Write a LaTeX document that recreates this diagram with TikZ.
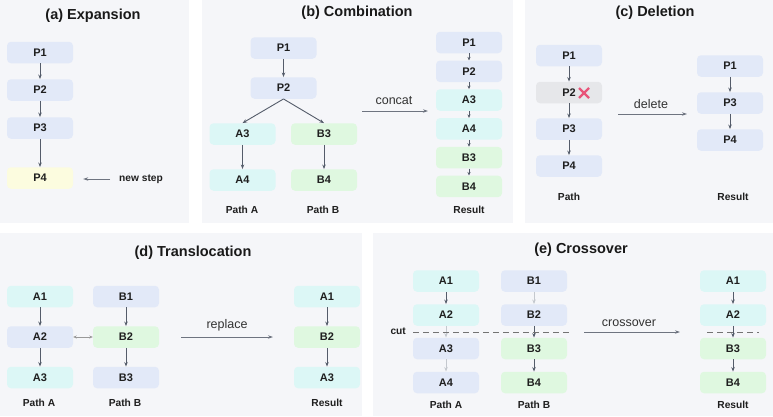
\documentclass[tikz,border=0pt]{standalone}
\usepackage{fontspec}
\setmainfont{Liberation Sans}
\usetikzlibrary{arrows.meta}
\definecolor{panelbg}{HTML}{F5F6F9}
\definecolor{pcol}{HTML}{E2E9F8}
\definecolor{acol}{HTML}{DCF7F6}
\definecolor{bcol}{HTML}{DFF8E0}
\definecolor{ycol}{HTML}{FCFCDF}
\definecolor{gcol}{HTML}{E6E7EA}
\definecolor{arr}{HTML}{545C6A}
\definecolor{larr}{HTML}{C4C8CE}
\definecolor{crossc}{HTML}{E8557A}
\tikzset{
  panel/.style={fill=panelbg, draw=none},
  box/.style={rounded corners=4pt, minimum width=66pt, minimum height=21.5pt, inner sep=0pt, font=\bfseries\fontsize{11}{12}\selectfont, text=black!88},
  pbox/.style={box, fill=pcol},
  abox/.style={box, fill=acol},
  bbox/.style={box, fill=bcol},
  ybox/.style={box, fill=ycol},
  gbox/.style={box, fill=gcol},
  ttl/.style={font=\bfseries\fontsize{14.5}{16}\selectfont, text=black!90, inner sep=0pt},
  lbl/.style={font=\bfseries\fontsize{10.2}{11}\selectfont, text=black!88, inner sep=0pt},
  oplbl/.style={font=\fontsize{12.5}{13}\selectfont, text=black!80, inner sep=0pt, anchor=south},
  flow/.style={draw=arr, line width=0.9pt, -{Stealth[length=4.5pt,width=3.4pt]}},
  lflow/.style={draw=larr, line width=0.9pt, -{Stealth[length=4.5pt,width=3.4pt]}},
  bigflow/.style={draw=arr!85, line width=0.9pt, -{Stealth[length=5pt,width=3.4pt]}},
  cutline/.style={draw=black!55, line width=1pt, dash pattern=on 6pt off 4pt},
}
\begin{document}
\begin{tikzpicture}[x=1pt,y=-1pt]
\useasboundingbox (0,0) rectangle (773,416);
\fill[white] (0,0) rectangle (773,416);
% panels
\fill[panel] (0,0) rectangle (189,223);
\fill[panel] (202,0) rectangle (513,223);
\fill[panel] (525,0) rectangle (773,223);
\fill[panel] (0,233) rectangle (362,416);
\fill[panel] (373,233) rectangle (773,416);

% (a) Expansion
\node[ttl] (ta) at (93,16) {(a) Expansion};
\node[pbox] (ap1) at (40,52.5) {P1};
\node[pbox] (ap2) at (40,90) {P2};
\node[pbox] (ap3) at (40,128) {P3};
\node[ybox] (ap4) at (40,178) {P4};
\draw[flow] (ap1) -- (ap2);
\draw[flow] (ap2) -- (ap3);
\draw[flow] (ap3) -- (ap4);
\node[lbl, anchor=west] (newstep) at (119,179) {new step};
\draw[bigflow, shorten <=9pt, shorten >=10pt] (newstep.west) -- (ap4.east |- newstep.west);

% (b) Combination
\node[ttl] (tb) at (357,13) {(b) Combination};
\node[pbox] (bp1) at (283.5,48) {P1};
\node[pbox] (bp2) at (283.5,88) {P2};
\node[abox] (ba3) at (242.5,134) {A3};
\node[bbox] (bb3) at (324,134) {B3};
\node[abox] (ba4) at (242.5,180) {A4};
\node[bbox] (bb4) at (324,180) {B4};
\draw[flow] (bp1) -- (bp2);
\draw[flow] (bp2.south) -- (ba3.north);
\draw[flow] (bp2.south) -- (bb3.north);
\draw[flow] (ba3) -- (ba4);
\draw[flow] (bb3) -- (bb4);
\node[lbl] (bpa) at (242,210) {Path A};
\node[lbl] (bpb) at (323,210) {Path B};
\coordinate (bc1) at (362,111);
\coordinate (bc2) at (428,111);
\draw[bigflow] (bc1) -- (bc2);
\node[oplbl] (concat) at (394,105) {concat};
\node[pbox] (br1) at (469,42.5) {P1};
\node[pbox] (br2) at (469,71.3) {P2};
\node[abox] (br3) at (469,100) {A3};
\node[abox] (br4) at (469,128.8) {A4};
\node[bbox] (br5) at (469,157.6) {B3};
\node[bbox] (br6) at (469,186.4) {B4};
\foreach \u/\v in {br1/br2,br2/br3,br3/br4,br4/br5,br5/br6}
  \draw[draw=arr, line width=0.9pt, -{Stealth[length=3.5pt,width=3.2pt]}] (\u) -- (\v);
\node[lbl] (bres) at (469,210) {Result};

% (c) Deletion
\node[ttl] (tc) at (655,13) {(c) Deletion};
\node[pbox] (cp1) at (569,55.5) {P1};
\node[gbox] (cp2) at (569,92.5) {P2};
\node[pbox] (cp3) at (569,129) {P3};
\node[pbox] (cp4) at (569,166) {P4};
\draw[flow] (cp1) -- (cp2);
\draw[flow] (cp2) -- (cp3);
\draw[flow] (cp3) -- (cp4);
\draw[crossc, line width=2.3pt] (579,88) -- (589,98) (579,98) -- (589,88);
\coordinate (cc1) at (618,114);
\coordinate (cc2) at (687,114);
\draw[bigflow] (cc1) -- (cc2);
\node[oplbl] (delete) at (651,108.5) {delete};
\node[pbox] (cr1) at (730,66) {P1};
\node[pbox] (cr3) at (730,103) {P3};
\node[pbox] (cr4) at (730,140) {P4};
\draw[flow] (cr1) -- (cr3);
\draw[flow] (cr3) -- (cr4);
\node[lbl] (cpath) at (569,197) {Path};
\node[lbl] (cres) at (733,197) {Result};

% (d) Translocation
\node[ttl] (td) at (193,253) {(d) Translocation};
\node[abox] (da1) at (40,296.5) {A1};
\node[pbox] (da2) at (40,337) {A2};
\node[abox] (da3) at (40,377.5) {A3};
\node[pbox] (db1) at (126,296.5) {B1};
\node[bbox] (db2) at (126,337) {B2};
\node[pbox] (db3) at (126,377.5) {B3};
\draw[flow] (da1) -- (da2);
\draw[flow] (da2) -- (da3);
\draw[flow] (db1) -- (db2);
\draw[flow] (db2) -- (db3);
\draw[draw=black!40, line width=0.9pt, {Stealth[length=3.5pt,width=3pt]}-{Stealth[length=3.5pt,width=3pt]}] (da2) -- (db2);
\node[lbl] (dpa) at (39,403) {Path A};
\node[lbl] (dpb) at (125,403) {Path B};
\coordinate (dc1) at (181,337);
\coordinate (dc2) at (273,337);
\draw[bigflow] (dc1) -- (dc2);
\node[oplbl] (replace) at (227,331.5) {replace};
\node[abox] (dr1) at (327,296.5) {A1};
\node[bbox] (dr2) at (327,337) {B2};
\node[abox] (dr3) at (327,377.5) {A3};
\draw[flow] (dr1) -- (dr2);
\draw[flow] (dr2) -- (dr3);
\node[lbl] (dres) at (327,403) {Result};

% (e) Crossover
\node[ttl] (te) at (581,250) {(e) Crossover};
\node[abox] (ea1) at (446,281) {A1};
\node[abox] (ea2) at (446,315) {A2};
\node[pbox] (ea3) at (446,348.5) {A3};
\node[pbox] (ea4) at (446,382.5) {A4};
\node[pbox] (eb1) at (534,281) {B1};
\node[pbox] (eb2) at (534,315) {B2};
\node[bbox] (eb3) at (534,348.5) {B3};
\node[bbox] (eb4) at (534,382.5) {B4};
\draw[flow] (ea1) -- (ea2);
\draw[lflow] (ea2) -- (ea3);
\draw[lflow] (ea3) -- (ea4);
\draw[lflow] (eb1) -- (eb2);
\draw[flow] (eb2) -- (eb3);
\draw[flow] (eb3) -- (eb4);
\coordinate (ecut1) at (413,332);
\coordinate (ecut2) at (569,332);
\draw[cutline] (ecut1) -- (ecut2);
\node[lbl, anchor=east] (cut) at (406,331) {cut};
\coordinate (ec1) at (584,332);
\coordinate (ec2) at (680,332);
\draw[bigflow] (ec1) -- (ec2);
\node[oplbl] (crossover) at (629,326.5) {crossover};
\node[abox] (er1) at (733,281) {A1};
\node[abox] (er2) at (733,315) {A2};
\node[bbox] (er3) at (733,348.5) {B3};
\node[bbox] (er4) at (733,382.5) {B4};
\coordinate (ercut1) at (707,332);
\coordinate (ercut2) at (759,332);
\draw[cutline] (ercut1) -- (ercut2);
\draw[flow] (er1) -- (er2);
\draw[flow] (er2) -- (er3);
\draw[flow] (er3) -- (er4);
\node[lbl] (epa) at (446,405) {Path A};
\node[lbl] (epb) at (534,405) {Path B};
\node[lbl] (eres) at (733,405) {Result};
\end{tikzpicture}
\end{document}
